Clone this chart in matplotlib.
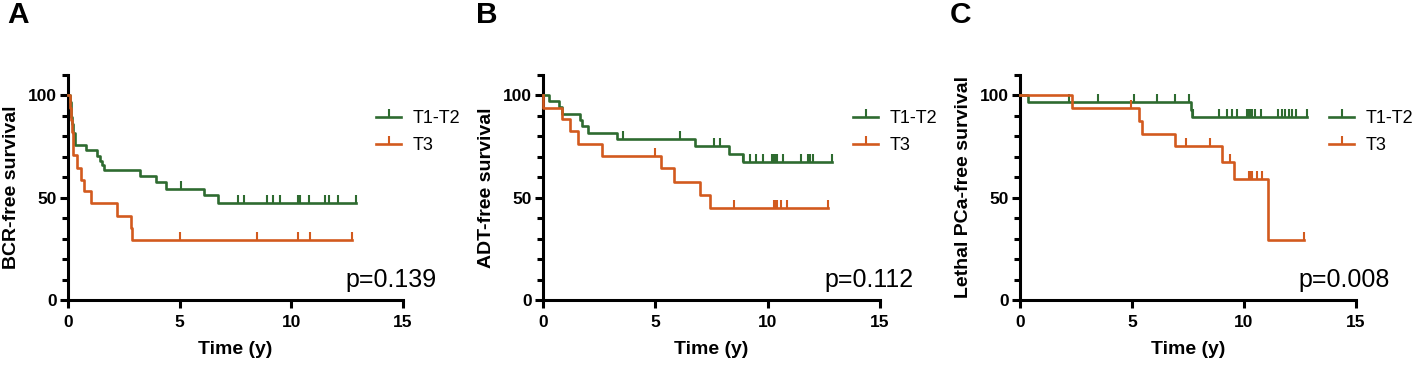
import numpy as np
import matplotlib
matplotlib.use("Agg")
import matplotlib.pyplot as plt
from matplotlib.lines import Line2D

plt.rcParams['font.family'] = ['Liberation Sans', 'DejaVu Sans']

GREEN = '#2e6b30'
ORANGE = '#d25a1e'

groups = ['T1-T2', 'T3']
panel_letters = ['A', 'B', 'C']
ylabels = ['BCR-free survival', 'ADT-free survival', 'Lethal PCa-free survival']
pvalues = ['p=0.139', 'p=0.112', 'p=0.008']
xticks = [0, 5, 10, 15]
yticks = [0, 50, 100]

# ---- Panel A (BCR) ----
a_green_t = [0.08, 0.12, 0.15, 0.18, 0.24, 0.30, 0.81, 1.31, 1.43, 1.52, 1.60, 3.22, 3.96, 4.40, 6.07, 6.70]
a_green_s = [97.0, 93.0, 89.5, 86.0, 81.5, 76.0, 73.3, 70.6, 68.0, 65.8, 63.6, 60.7, 57.7, 54.4, 51.1, 47.5]
a_green_c = [5.05, 7.6, 7.9, 8.9, 9.2, 9.5, 10.3, 10.35, 10.4, 10.8, 11.5, 11.7, 12.1, 12.9]
a_green_end = 12.9
a_orange_t = [0.08, 0.14, 0.20, 0.22, 0.24, 0.42, 0.58, 0.72, 1.01, 2.18, 2.81, 2.87]
a_orange_s = [94.0, 88.0, 82.0, 76.5, 70.8, 64.3, 58.5, 53.3, 47.4, 41.3, 35.2, 29.5]
a_orange_c = [5.0, 8.46, 10.3, 10.85, 12.7]
a_orange_end = 12.7

# ---- Panel B (ADT) ----
b_green_t = [0.27, 0.72, 0.86, 1.63, 1.73, 1.99, 3.30, 6.75, 8.28, 8.90]
b_green_s = [97.2, 94.2, 91.1, 88.2, 85.2, 81.8, 78.8, 75.1, 71.4, 67.7]
b_green_c = [3.55, 6.12, 7.6, 7.9, 8.92, 9.2, 9.5, 9.8, 10.2, 10.27, 10.33, 10.4, 10.7, 11.5, 11.8, 11.9, 12.0, 12.87]
b_green_end = 12.87
b_orange_t = [0.02, 0.84, 1.21, 1.55, 2.63, 5.25, 5.85, 7.00, 7.43]
b_orange_s = [94.1, 88.4, 82.4, 76.5, 70.6, 64.3, 57.9, 51.4, 45.0]
b_orange_c = [5.0, 8.5, 10.27, 10.33, 10.4, 10.6, 10.87, 12.7]
b_orange_end = 12.7

# ---- Panel C (Lethal PCa) ----
c_green_t = [0.37, 7.64, 7.70]
c_green_s = [96.9, 93.1, 89.3]
c_green_c = [2.2, 3.5, 5.07, 6.1, 6.94, 7.54, 7.72, 8.88, 9.25, 9.48, 9.7, 10.15, 10.22, 10.3, 10.36, 10.5,
             10.75, 11.5, 11.7, 11.85, 12.0, 12.15, 12.3, 12.8]
c_green_end = 12.8
c_orange_t = [2.34, 5.30, 5.45, 6.94, 9.00, 9.55, 11.07]
c_orange_s = [94.1, 87.7, 81.1, 75.1, 67.5, 59.3, 29.5]
c_orange_c = [4.96, 7.4, 8.48, 9.37, 10.22, 10.28, 10.34, 10.6, 10.8, 12.7]
c_orange_end = 12.7

panels = [
    [(a_green_t, a_green_s, a_green_c, a_green_end), (a_orange_t, a_orange_s, a_orange_c, a_orange_end)],
    [(b_green_t, b_green_s, b_green_c, b_green_end), (b_orange_t, b_orange_s, b_orange_c, b_orange_end)],
    [(c_green_t, c_green_s, c_green_c, c_green_end), (c_orange_t, c_orange_s, c_orange_c, c_orange_end)],
]
colors = [GREEN, ORANGE]

W, H = 1418, 366
fig = plt.figure(figsize=(W / 100, H / 100), dpi=100)

axes_px = [(68, 335), (543, 337), (1020, 336)]
letter_x = [7, 476, 950]
bottom_px, height_px = 66, 225

LW = 1.9
MS = 5.5
MEW = 1.5


def surv_at(times, levels, t):
    idx = np.searchsorted(np.asarray(times), t, side='right')
    full = np.concatenate([[100.0], np.asarray(levels)])
    return full[idx]


for i, (lx, wpx) in enumerate(axes_px):
    ax = fig.add_axes([lx / W, bottom_px / H, wpx / W, height_px / H])
    handles = []
    for (t, s, c, end), col, lab in zip(panels[i], colors, groups):
        xs = np.concatenate([[0.0], t, [end]])
        ys = np.concatenate([[100.0], s, [s[-1]]])
        ax.step(xs, ys, where='post', color=col, lw=LW, clip_on=False, zorder=3)
        cy = [surv_at(t, s, ct) for ct in c]
        ax.plot(c, cy, linestyle='none', marker=2, markersize=MS, markeredgewidth=MEW,
                color=col, clip_on=False, zorder=3)
        handles.append(Line2D([], [], color=col, lw=LW, marker=2, markersize=MS,
                              markeredgewidth=MEW, markevery=[1]))
    ax.set_xlim(0, 15)
    ax.set_ylim(0, 110)
    ax.set_xticks(xticks)
    ax.set_yticks(yticks)
    ax.set_yticks(np.arange(0, 111, 10), minor=True)
    for sp in ['top', 'right']:
        ax.spines[sp].set_visible(False)
    for sp in ['left', 'bottom']:
        ax.spines[sp].set_linewidth(2.2)
        ax.spines[sp].set_color('black')
    ax.tick_params(axis='both', which='major', direction='out', length=5.5, width=2.2,
                   labelsize=12.5, pad=2.5)
    ax.tick_params(axis='x', which='major', pad=5)
    ax.tick_params(axis='y', which='minor', direction='out', length=4, width=2.2)
    ax.tick_params(axis='x', which='minor', bottom=False)
    for lab in ax.get_xticklabels() + ax.get_yticklabels():
        lab.set_fontweight('bold')
    ax.set_xlabel('Time (y)', fontsize=14, fontweight='bold', labelpad=8)
    ax.set_ylabel(ylabels[i], fontsize=14, fontweight='bold', labelpad=6)
    ax.text(1.10, 6.4, pvalues[i], transform=ax.get_yaxis_transform(), ha='right',
            va='baseline', fontsize=18)
    leg = ax.legend(handles, groups, loc='center left', bbox_to_anchor=(0.92, 0.745),
                    frameon=False, fontsize=13, handlelength=1.4, handletextpad=0.6,
                    labelspacing=0.55, borderpad=0, borderaxespad=0)
    leg.set_clip_on(False)
    fig.text(letter_x[i] / W, 1 - 1 / H, panel_letters[i], fontsize=21.5, fontweight='bold',
             ha='left', va='top')

fig.savefig('out.png', dpi=100)
